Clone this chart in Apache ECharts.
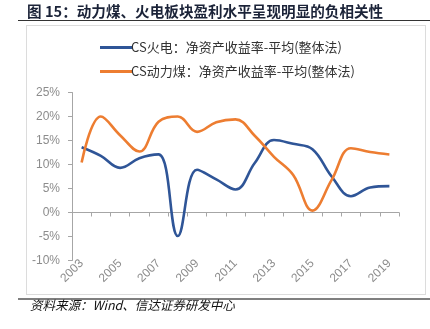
<!DOCTYPE html>
<html>
<head>
<meta charset="utf-8">
<script src="https://cdn.jsdelivr.net/npm/echarts@6/dist/echarts.min.js"></script>
<style>
html,body{margin:0;padding:0;background:#fff;}
#wrap{position:relative;width:430px;height:329px;}
#c{position:absolute;left:0;top:0;width:430px;height:329px;}
.rule{position:absolute;}
#topRule{left:18px;top:20px;width:412px;height:0;border-top:1.5px solid #333;}
#frame{left:26px;top:25px;width:398px;height:268px;border:1px solid #dcdcdc;}
#bottomRule{left:18px;top:298px;width:412px;height:0;border-top:2px solid #7f7f7f;}
</style>
</head>
<body>
<div id="wrap">
  <div class="rule" id="topRule"></div>
  <div class="rule" id="frame"></div>
  <div class="rule" id="bottomRule"></div>
  <div id="c"></div>
</div>
<script>
const years = ['2003','2004','2005','2006','2007','2008','2009','2010','2011','2012','2013','2014','2015','2016','2017','2018','2019'];
const powerROE = [13.6, 11.8, 9.3, 11.3, 12.1, -4.9, 8.9, 6.9, 4.8, 10.3, 15.1, 14.3, 13.2, 7.5, 3.4, 5.2, 5.5];
const coalROE = [10.4, 20.0, 16.1, 12.7, 18.9, 20.0, 16.8, 18.8, 19.4, 16.0, 11.6, 7.8, 0.4, 6.8, 13.4, 12.6, 12.1];
const seriesNames = ['CS火电：净资产收益率-平均(整体法)', 'CS动力煤：净资产收益率-平均(整体法)'];
const titleText = '图 15：动力煤、火电板块盈利水平呈现明显的负相关性';
const sourceText = '资料来源：Wind、信达证券研发中心';

const chart = echarts.init(document.getElementById('c'), null, {renderer: 'canvas'});
const cjk = '"Noto Sans CJK SC", "Noto Sans", sans-serif';
const axisFont = '"Liberation Sans", "Noto Sans CJK SC", sans-serif';
chart.setOption({
  animation: false,
  graphic: [
    {type: 'text', x: 27, y: 4, style: {text: titleText, font: 'bold 14.6px ' + cjk, fill: '#1b2338'}},
    {type: 'text', x: 30, y: 299, style: {text: sourceText, font: 'italic 12.5px ' + cjk, fill: '#111'}}
  ],
  legend: {
    orient: 'vertical',
    left: 95,
    top: 36,
    itemWidth: 33,
    itemHeight: 3,
    itemGap: 11,
    icon: 'rect',
    textStyle: {fontSize: 13, color: '#333', fontFamily: cjk, padding: [0,0,0,-7]},
    data: seriesNames
  },
  grid: {left: 72, right: 31, top: 92.5, bottom: 68.5, containLabel: false},
  xAxis: {
    type: 'category',
    data: years,
    boundaryGap: true,
    axisLine: {onZero: true, lineStyle: {color: '#a6a6a6', width: 1}},
    axisTick: {show: true, interval: 0, length: 4, lineStyle: {color: '#a6a6a6'}},
    axisLabel: {interval: 1, rotate: 45, margin: 1, color: '#8c8c8c', fontSize: 12, fontFamily: axisFont},
    splitLine: {show: false}
  },
  yAxis: {
    type: 'value',
    min: -10, max: 25, interval: 5,
    axisLine: {show: true, lineStyle: {color: '#a6a6a6', width: 1}},
    axisTick: {show: true, length: 4, lineStyle: {color: '#a6a6a6'}},
    axisLabel: {formatter: '{value}%', margin: 12, color: '#8c8c8c', fontSize: 12, fontFamily: axisFont},
    splitLine: {show: false}
  },
  series: [
    {name: seriesNames[0], type: 'line', data: powerROE, smooth: 0.4, symbol: 'none',
     lineStyle: {color: '#2f5597', width: 2.6}, itemStyle: {color: '#2f5597'}},
    {name: seriesNames[1], type: 'line', data: coalROE, smooth: 0.4, symbol: 'none',
     lineStyle: {color: '#ed7d31', width: 2.6}, itemStyle: {color: '#ed7d31'}}
  ]
});
</script>
</body>
</html>
